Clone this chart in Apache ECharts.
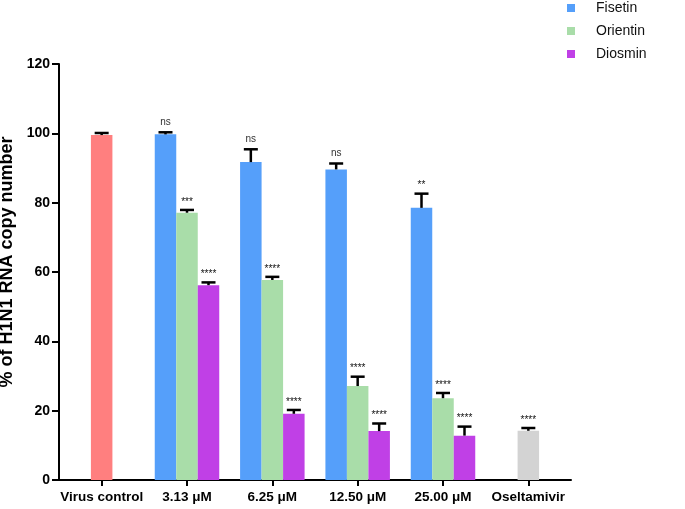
<!DOCTYPE html>
<html>
<head>
<meta charset="utf-8">
<script src="https://cdn.jsdelivr.net/npm/echarts@6/dist/echarts.min.js"></script>
<style>
html,body{margin:0;padding:0;background:#fff;}
#chart{width:685px;height:509px;}
</style>
</head>
<body>
<div id="chart"></div>
<script>
const categories = ['Virus control', '3.13 μM', '6.25 μM', '12.50 μM', '25.00 μM', 'Oseltamivir'];
const yTicks = [0, 20, 40, 60, 80, 100, 120];

const virusControl    = [99.5, null, null, null, null, null];
const virusControlErr = [0.6, null, null, null, null, null];
const virusControlSig = ['', '', '', '', '', ''];

const fisetin    = [null, 99.7, 91.7, 89.6, 78.5, null];
const fisetinErr = [null, 0.6, 3.7, 1.7, 4.1, null];
const fisetinSig = ['', 'ns', 'ns', 'ns', '**', ''];

const orientin    = [null, 77.1, 57.7, 27.1, 23.6, null];
const orientinErr = [null, 0.8, 0.9, 2.7, 1.5, null];
const orientinSig = ['', '***', '****', '****', '****', ''];

const diosmin    = [null, 56.2, 19.1, 14.1, 12.8, null];
const diosminErr = [null, 0.8, 1.1, 2.2, 2.6, null];
const diosminSig = ['', '****', '****', '****', '****', ''];

const oseltamivir    = [null, null, null, null, null, 14.2];
const oseltamivirErr = [null, null, null, null, null, 0.8];
const oseltamivirSig = ['', '', '', '', '', '****'];

const BAR_W = 21.5;
const FONT = '"Liberation Sans", Arial, sans-serif';

function errData(vals, errs, sigs, pos) {
  const out = [];
  vals.forEach((v, i) => {
    if (v !== null) out.push([i, v, errs[i], pos, sigs[i]]);
  });
  return out;
}
const errorPoints = []
  .concat(errData(virusControl, virusControlErr, virusControlSig, 0))
  .concat(errData(fisetin, fisetinErr, fisetinSig, -1))
  .concat(errData(orientin, orientinErr, orientinSig, 0))
  .concat(errData(diosmin, diosminErr, diosminSig, 1))
  .concat(errData(oseltamivir, oseltamivirErr, oseltamivirSig, 0));

const chart = echarts.init(document.getElementById('chart'));
chart.setOption({
  animation: false,
  backgroundColor: '#fff',
  textStyle: { fontFamily: FONT },
  legend: {
    data: ['Fisetin', 'Orientin', 'Diosmin'],
    orient: 'vertical',
    left: 567,
    top: 0,
    padding: 0,
    icon: 'rect',
    itemWidth: 8,
    itemHeight: 8,
    itemGap: 7,
    selectedMode: false,
    textStyle: { fontFamily: FONT, fontSize: 14, color: '#111', padding: [0, 0, 0, 16], lineHeight: 16 }
  },
  grid: { left: 59, top: 64, width: 512, bottom: 29, containLabel: false, outerBoundsMode: 'none' },
  xAxis: {
    type: 'category',
    data: categories,
    axisLine: { lineStyle: { color: '#000', width: 2 } },
    axisTick: { show: true, alignWithLabel: true, length: 6, lineStyle: { color: '#000', width: 2 } },
    axisLabel: { color: '#000', fontWeight: 'bold', fontSize: 13.5, fontFamily: FONT, margin: 10, interval: 0 }
  },
  yAxis: {
    type: 'value',
    min: yTicks[0],
    max: yTicks[yTicks.length - 1],
    interval: yTicks[1] - yTicks[0],
    name: '% of H1N1 RNA copy number',
    nameLocation: 'middle',
    nameGap: 36,
    nameTextStyle: { color: '#000', fontWeight: 'bold', fontSize: 18, fontFamily: FONT, padding: [0, 0, 0, 20] },
    splitLine: { show: false },
    axisLine: { show: true, lineStyle: { color: '#000', width: 2 } },
    axisTick: { show: true, length: 7, lineStyle: { color: '#000', width: 2 } },
    axisLabel: { color: '#000', fontWeight: 'bold', fontSize: 14, fontFamily: FONT, margin: 9 }
  },
  series: [
    { name: 'Fisetin', type: 'bar', stack: 'left', data: fisetin, barWidth: BAR_W, barGap: '0%', itemStyle: { color: '#559FFA' } },
    { name: 'Virus control', type: 'bar', stack: 'mid', data: virusControl, barWidth: BAR_W, barGap: '0%', itemStyle: { color: '#FF7F7F' } },
    { name: 'Orientin', type: 'bar', stack: 'mid', data: orientin, barWidth: BAR_W, barGap: '0%', itemStyle: { color: '#A9DDA9' } },
    { name: 'Diosmin', type: 'bar', stack: 'right', data: diosmin, barWidth: BAR_W, barGap: '0%', itemStyle: { color: '#C040E6' } },
    { name: 'Oseltamivir', type: 'bar', stack: 'mid', data: oseltamivir, barWidth: BAR_W, barGap: '0%', itemStyle: { color: '#D3D3D3' } },
    {
      name: 'errors',
      type: 'custom',
      data: errorPoints,
      encode: { x: 0, y: 1 },
      z: 10,
      silent: true,
      renderItem: function (params, api) {
        const idx = api.value(0);
        const v = api.value(1);
        const e = api.value(2);
        const pos = api.value(3);
        const sig = api.value(4);
        const base = api.coord([idx, v]);
        const top = api.coord([idx, v + e]);
        const x = base[0] + pos * BAR_W;
        const capHalf = 7;
        const children = [
          { type: 'line', shape: { x1: x, y1: base[1], x2: x, y2: top[1] }, style: { stroke: '#000', lineWidth: 2.5 } },
          { type: 'line', shape: { x1: x - capHalf, y1: top[1], x2: x + capHalf, y2: top[1] }, style: { stroke: '#000', lineWidth: 2.5 } }
        ];
        if (sig) {
          const isNs = sig === 'ns';
          children.push({
            type: 'text',
            style: {
              x: x,
              y: top[1] - (isNs ? 5 : 3),
              text: sig,
              align: 'center',
              verticalAlign: 'bottom',
              fontFamily: FONT,
              fontSize: 10,
              fill: isNs ? '#333' : '#111'
            }
          });
        }
        return { type: 'group', children: children };
      }
    }
  ]
});
</script>
</body>
</html>
